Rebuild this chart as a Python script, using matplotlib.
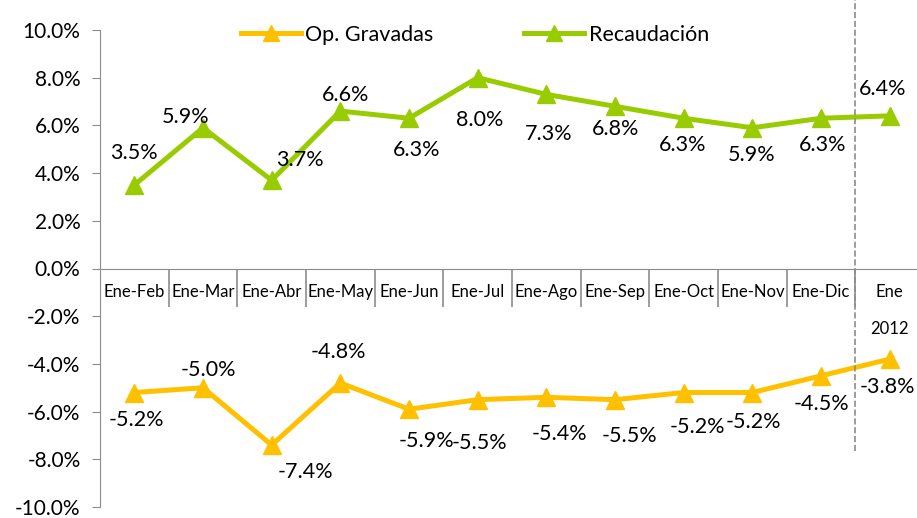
import matplotlib.pyplot as plt
from matplotlib.ticker import FuncFormatter
from matplotlib.lines import Line2D

plt.rcParams['font.family'] = ['Lato', 'DejaVu Sans']

categories = ['Ene-Feb', 'Ene-Mar', 'Ene-Abr', 'Ene-May', 'Ene-Jun', 'Ene-Jul',
              'Ene-Ago', 'Ene-Sep', 'Ene-Oct', 'Ene-Nov', 'Ene-Dic', 'Ene\n\n2012']
recaudacion = [3.5, 5.9, 3.7, 6.6, 6.3, 8.0, 7.3, 6.8, 6.3, 5.9, 6.3, 6.4]
op_gravadas = [-5.2, -5.0, -7.4, -4.8, -5.9, -5.5, -5.4, -5.5, -5.2, -5.2, -4.5, -3.8]

# label offsets in pixels (dx, dy)
rec_off = [(0, 32), (-17, 11), (28, 20), (5, 16), (8, -32), (2, -42), (2, -40), (1, -23), (-1, -27), (-1, -27), (2, -27), (-7, 27)]
op_off = [(2, -27), (5, 18), (34, -27), (-2, 31), (17, -32), (2, -43), (13, -37), (14, -36), (14, -34), (1, -29), (0, -28), (-2, -28)]

green = '#99CC00'
gold = '#FFC000'
grey = '#8C8C8C'

fig = plt.figure(figsize=(9.17, 5.18), dpi=100)
ax = fig.add_axes([100 / 917, 11 / 518, 824 / 917, 477 / 518])

x = list(range(len(categories)))
ax.plot(x, op_gravadas, color=gold, lw=3.6, marker='^', ms=12.5, label='Op. Gravadas')
ax.plot(x, recaudacion, color=green, lw=3.6, marker='^', ms=12.5, label='Recaudación')

for i, v in enumerate(recaudacion):
    ax.annotate(f'{v:.1f}%', (i, v), xytext=rec_off[i], textcoords='offset pixels',
                ha='center', va='center', fontsize=15.5)
for i, v in enumerate(op_gravadas):
    ax.annotate(f'{v:.1f}%', (i, v), xytext=op_off[i], textcoords='offset pixels',
                ha='center', va='center', fontsize=15.5)

ax.set_xlim(-0.5, len(categories) - 0.5)
ax.set_ylim(-10, 10)
ax.set_yticks(range(-10, 11, 2))
ax.yaxis.set_major_formatter(FuncFormatter(lambda v, p: f'{v:.1f}%'))
ax.tick_params(axis='y', labelsize=15, length=6, color=grey, pad=8)

ax.spines['bottom'].set_position(('data', 0))
ax.spines['bottom'].set_color(grey)
ax.spines['left'].set_color(grey)
ax.spines['top'].set_visible(False)
ax.spines['right'].set_visible(False)

ax.set_xticks(x)
ax.set_xticklabels(categories, fontsize=12, va='top')
ax.set_xticks([i + 0.5 for i in x[:-1]], minor=True)
ax.tick_params(axis='x', which='major', length=0, pad=11)
ax.tick_params(axis='x', which='minor', length=27, color=grey, width=1.2)

ax.axvline(10.5, ymin=0.118, ymax=1.07, color=grey, ls='--', lw=1.2, clip_on=False)

handles = [Line2D([], [], color=gold, lw=3.6, marker='^', ms=11),
           Line2D([], [], color=green, lw=3.6, marker='^', ms=11)]
ax.legend(handles, ['Op. Gravadas', 'Recaudación'], loc='upper center', bbox_to_anchor=(0.455, 1.052),
          ncol=2, frameon=False, fontsize=15.5, handlelength=2.8, handletextpad=0.2, columnspacing=4.2)

fig.savefig('out.png', dpi=100)
